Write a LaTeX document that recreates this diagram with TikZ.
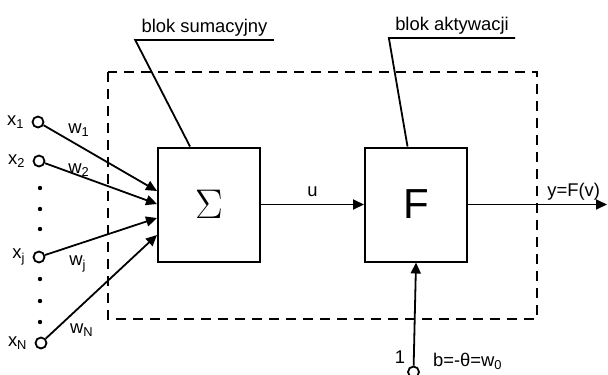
\documentclass[tikz,border=0pt]{standalone}
\usepackage[no-math]{fontspec}
\setmainfont{Liberation Sans}
\usetikzlibrary{positioning,arrows.meta}

\begin{document}
\begin{tikzpicture}[x=0.5pt,y=-0.5pt,>={Triangle[length=5.5pt,width=5pt]},
  font=\fontsize{9.2}{11}\selectfont,
  block/.style={draw,line width=1pt,minimum width=51pt,minimum height=57pt,inner sep=0pt},
  port/.style={draw,circle,line width=0.9pt,minimum size=5.5pt,inner sep=0pt},
  callout/.style={inner xsep=3pt,inner ysep=1.5pt,anchor=south},
  wire/.style={->,line width=0.9pt}]
\useasboundingbox (0,0) rectangle (608,374);
% dashed frame round the neuron
\draw[line width=0.8pt,dash pattern=on 5pt off 3.5pt] (108,72) rectangle (537,319);

\node (sum) [block] at (209,204.5) {\fontsize{20}{20}\selectfont$\Sigma$};
\node (act) [block, right=51.5pt of sum] {\fontsize{21}{21}\selectfont F};

% inputs
\node (x1) [port, label=left:x\textsubscript{1}] at (38,122) {};
\node (x2) [port, label=left:x\textsubscript{2}] at (39,161) {};
\node (xj) [port, label=left:x\textsubscript{j}] at (39,257) {};
\node (xn) [port, label=left:x\textsubscript{N}] at (41,343) {};
\foreach \y in {188,209,229,279,301,322}
  \fill (40,\y) circle[radius=1.1pt];

\draw[wire] (x1) -- ([yshift=6.75pt]sum.west);
\draw[wire] (x2) -- ([yshift=0.25pt]sum.west);
\draw[wire] (xj) -- ([yshift=-6.75pt]sum.west);
\draw[wire] (xn) -- ([yshift=-15.25pt]sum.west);

\node (w1) at (79,130) {w\textsubscript{1}};
\node (w2) at (79,170) {w\textsubscript{2}};
\node (wj) at (78,264) {w\textsubscript{j}};
\node (wn) at (82,330) {w\textsubscript{N}};

\draw[wire] (sum) -- (act) node[midway,above] {u};
\coordinate (yend) at (607,204.5);
\draw[wire] (act) -- (yend) node[pos=0.76,above,inner sep=1.5pt] {y=F(v)};

% bias
\node (one) [port] at (413.5,372) {};
\draw[wire] (one) -- (act.south);
\node (b1) at (400,357) {1};
\node (bias) [anchor=west] at (426,361) {b=-θ=w\textsubscript{0}};

% block names
\node (lsum) [callout] at (204.5,40) {blok sumacyjny};
\draw[line width=0.9pt] (lsum.south east) -- (lsum.south west) -- ([xshift=-9.5pt]sum.north);
\node (lact) [callout] at (452,38) {blok aktywacji};
\draw[line width=0.9pt] (lact.south east) -- (lact.south west) -- ([xshift=-4.25pt]act.north);
\end{tikzpicture}
\end{document}
